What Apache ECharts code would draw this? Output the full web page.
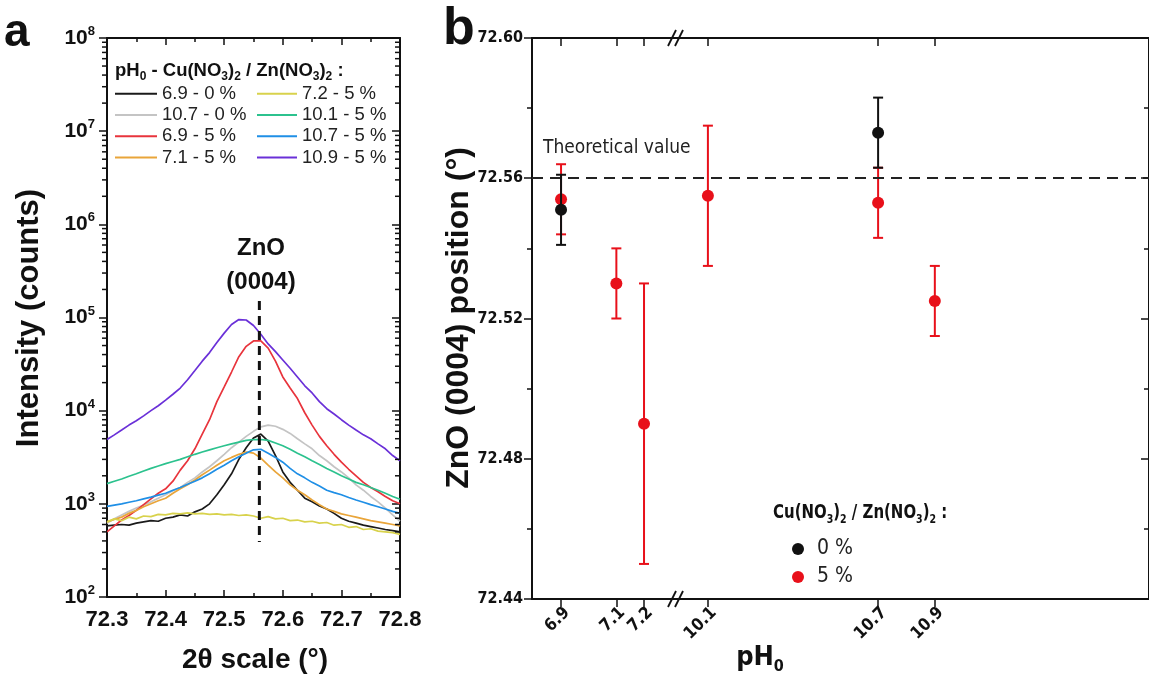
<!DOCTYPE html>
<html><head><meta charset="utf-8">
<script src="https://cdn.jsdelivr.net/npm/echarts@6/dist/echarts.min.js"></script>
<style>html,body{margin:0;padding:0;background:#fff}#c{width:1149px;height:680px}</style>
</head><body><div id="c"></div>
<script>
// ---------- Panel a data ----------
const twoTheta = [72.3,72.3125,72.325,72.3375,72.35,72.3625,72.375,72.3875,72.4,72.4125,72.425,72.4375,72.45,72.4625,72.475,72.4875,72.5,72.5125,72.525,72.5375,72.55,72.5625,72.575,72.5875,72.6,72.6125,72.625,72.6375,72.65,72.6625,72.675,72.6875,72.7,72.7125,72.725,72.7375,72.75,72.7625,72.775,72.7875,72.8];
const i69_0  = [580,590,600,590,620,640,660,650,700,720,760,740,820,880,1000,1250,1600,2100,3000,4000,5100,5600,4700,3300,2200,1700,1400,1150,1050,950,880,790,700,650,620,590,570,550,530,515,500];
const i107_0 = [620,690,760,830,900,970,1050,1150,1250,1380,1500,1700,1900,2200,2500,2900,3400,4000,4600,5300,6000,6700,7000,6800,6300,5700,5000,4400,3900,3300,2900,2500,2200,1900,1600,1400,1200,1050,900,760,650];
const i69_5  = [500,580,670,750,850,980,1130,1300,1450,1750,2300,2900,3900,5600,8000,12500,18000,26000,38000,49000,56000,56000,47000,34000,23000,17500,13500,9500,7000,5300,4200,3400,2800,2350,2000,1700,1500,1350,1200,1080,1000];
const i71_5  = [640,680,720,790,850,930,1000,1080,1150,1300,1450,1600,1800,2050,2300,2600,2900,3150,3400,3600,3500,3100,2600,2200,1900,1600,1400,1250,1100,980,880,830,780,750,720,690,660,640,620,600,580];
const i72_5  = [640,690,660,720,690,740,730,770,760,790,780,800,780,790,770,780,760,770,750,760,740,700,730,690,700,660,670,640,650,620,630,590,600,560,570,530,540,510,500,490,470];
const i101_5 = [1650,1750,1850,1980,2100,2250,2400,2550,2700,2850,3000,3200,3400,3600,3800,4000,4200,4400,4600,4800,4900,4900,4800,4500,4200,3850,3500,3200,2900,2650,2400,2200,2000,1850,1700,1600,1500,1400,1300,1200,1120];
const i107_5 = [940,970,1000,1040,1080,1130,1180,1240,1300,1400,1500,1620,1750,1900,2100,2350,2600,2900,3200,3500,3800,3850,3500,3150,2800,2400,2100,1900,1700,1550,1400,1320,1250,1170,1100,1040,980,930,880,830,790];
const i109_5 = [4900,5500,6200,7000,7800,8800,10000,11300,13000,15000,17500,21500,27000,34000,42000,54000,68000,84000,95000,94000,82000,66000,52000,43000,35000,28500,23000,18500,15500,12500,10500,9200,8000,7000,6200,5500,5000,4400,3900,3300,2900];
const curveNames  = ['6.9 - 0 %','10.7 - 0 %','6.9 - 5 %','7.1 - 5 %','7.2 - 5 %','10.1 - 5 %','10.7 - 5 %','10.9 - 5 %'];
const curveValues = [i69_0,i107_0,i69_5,i71_5,i72_5,i101_5,i107_5,i109_5];
const curveColors = ['#1a1a1a','#c4c4c4','#e8343c','#e9a53a','#d8d24c','#2cc28e','#1f8fe6','#6a30d8'];
const refPeak = [[72.56, 150000],[72.56, 390]];
const logDecades = [1e2,1e3,1e4,1e5,1e6,1e7];
const logMults = [2,3,4,5,6,7,8,9];

// ---------- Panel b data ----------
const ph0 = [6.9, 10.7];
const pos0 = [72.551, 72.573];
const err0 = [0.010, 0.010];
const ph5 = [6.9, 7.1, 7.2, 10.1, 10.7, 10.9];
const pos5 = [72.554, 72.530, 72.490, 72.555, 72.553, 72.525];
const err5 = [0.010, 0.010, 0.040, 0.020, 0.010, 0.010];
const phTicksLeft = [6.9, 7.1, 7.2];
const phTicksRight = [10.1, 10.7, 10.9];
const theoretical = 72.56;

const narrow = "'Liberation Sans Narrow','Arial Narrow','DejaVu Sans Condensed',sans-serif";
const sans = "'Liberation Sans',Arial,Helvetica,sans-serif";
const AX = '#111';

const chart = echarts.init(document.getElementById('c'), null, {renderer:'canvas'});

function pts(ph, pos, err, left){
  const out=[];
  for(let i=0;i<ph.length;i++){ if((ph[i]<8)===left) out.push([ph[i],pos[i],err[i]]); }
  return out;
}
function errRender(color){
  return function(params, api){
    const x=api.value(0), y=api.value(1), e=api.value(2);
    const t=api.coord([x,y+e]), b=api.coord([x,y-e]);
    const st={stroke:color,lineWidth:2};
    return {type:'group',children:[
      {type:'line',shape:{x1:t[0],y1:t[1],x2:b[0],y2:b[1]},style:st},
      {type:'line',shape:{x1:t[0]-5,y1:t[1],x2:t[0]+5,y2:t[1]},style:st},
      {type:'line',shape:{x1:b[0]-5,y1:b[1],x2:b[0]+5,y2:b[1]},style:st}
    ]};
  };
}

const minorData=[];
logDecades.forEach(d=>logMults.forEach(m=>minorData.push([72.3, d*m])));

const series=[];
curveNames.forEach((n,i)=>{
  series.push({name:n,type:'line',xAxisIndex:0,yAxisIndex:0,showSymbol:false,symbol:'none',
    data: twoTheta.map((x,k)=>[x,curveValues[i][k]]),
    lineStyle:{width:1.7,color:curveColors[i]},itemStyle:{color:curveColors[i]},z:3});
});
series.push({type:'line',xAxisIndex:0,yAxisIndex:0,showSymbol:false,symbol:'none',data:refPeak,
  lineStyle:{color:'#111',width:3,type:[9,6]},z:5,silent:true});
series.push({type:'custom',xAxisIndex:0,yAxisIndex:0,data:minorData,silent:true,z:6,
  renderItem:(p,api)=>{
    const v=api.value(1);
    const l=api.coord([72.3,v]), r=api.coord([72.8,v]);
    const st={stroke:AX,lineWidth:1.5};
    return {type:'group',children:[
      {type:'line',shape:{x1:l[0]-5,y1:l[1],x2:l[0],y2:l[1]},style:st},
      {type:'line',shape:{x1:r[0]-5,y1:r[1],x2:r[0],y2:r[1]},style:st}]};
  }});

[[true,2,2],[false,4,3]].forEach(([left,xi,yi])=>{
  series.push({type:'custom',xAxisIndex:xi,yAxisIndex:yi,data:pts(ph5,pos5,err5,left),renderItem:errRender('#e8101a'),z:3,
    markLine: {silent:true,symbol:'none',label:{show:false},lineStyle:{color:'#222',width:2,type:[11,7]},data:[{yAxis:theoretical}]}});
  series.push({name:'5 %',type:'scatter',xAxisIndex:xi,yAxisIndex:yi,symbolSize:12,itemStyle:{color:'#e8101a',opacity:1},
    data:pts(ph5,pos5,err5,left).map(d=>[d[0],d[1]]),z:4});
  series.push({type:'custom',xAxisIndex:xi,yAxisIndex:yi,data:pts(ph0,pos0,err0,left),renderItem:errRender('#111'),z:5});
  series.push({name:'0 %',type:'scatter',xAxisIndex:xi,yAxisIndex:yi,symbolSize:12,itemStyle:{color:'#111',opacity:1},
    data:pts(ph0,pos0,err0,left).map(d=>[d[0],d[1]]),z:6});
});

const supRich = {
  b:{fontSize:21,fontWeight:'bold',fontFamily:sans,color:'#111',lineHeight:26},
  s:{fontSize:13,fontWeight:'bold',fontFamily:sans,color:'#111',verticalAlign:'top',lineHeight:14}
};
const phLabel = {customValues:null,rotate:45,margin:5,verticalAlign:'top',fontSize:17,fontWeight:'bold',fontFamily:narrow,color:'#111',formatter:v=>v.toFixed(1)};

const option = {
  backgroundColor:'#fff',
  animation:false,
  grid:[
    {left:107,top:38,width:293,height:559},
    {left:532,top:38,width:143,height:561},
    {left:675,top:38,width:477,height:561}
  ],
  xAxis:[
    {type:'value',gridIndex:0,position:'bottom',min:72.3,max:72.8,interval:0.1,
      axisLine:{lineStyle:{color:AX,width:2}},axisTick:{inside:true,length:7,lineStyle:{width:1.5,color:AX}},
      minorTick:{show:true,splitNumber:2,length:4,lineStyle:{width:1.5,color:AX}},splitLine:{show:false},
      axisLabel:{margin:12,fontSize:22,fontWeight:'bold',fontFamily:sans,color:'#111',formatter:v=>v.toFixed(1)}},
    {type:'value',gridIndex:0,position:'top',min:72.3,max:72.8,interval:0.1,
      axisLine:{lineStyle:{color:AX,width:2}},axisTick:{inside:true,length:7,lineStyle:{width:1.5,color:AX}},
      minorTick:{show:true,splitNumber:2,length:4,lineStyle:{width:1.5,color:AX}},splitLine:{show:false},axisLabel:{show:false}},
    {type:'value',gridIndex:1,position:'bottom',min:6.795,max:7.312,
      axisLine:{lineStyle:{color:AX,width:2}},axisTick:{customValues:phTicksLeft,length:8,lineStyle:{width:1.5,color:AX}},splitLine:{show:false},
      axisLabel:Object.assign({},phLabel,{customValues:phTicksLeft})},
    {type:'value',gridIndex:1,position:'top',min:6.795,max:7.312,
      axisLine:{lineStyle:{color:AX,width:2}},axisTick:{inside:true,customValues:phTicksLeft,length:8,lineStyle:{width:1.5,color:AX}},splitLine:{show:false},axisLabel:{show:false}},
    {type:'value',gridIndex:2,position:'bottom',min:9.984,max:11.655,
      axisLine:{lineStyle:{color:AX,width:2}},axisTick:{customValues:phTicksRight,length:8,lineStyle:{width:1.5,color:AX}},splitLine:{show:false},
      axisLabel:Object.assign({},phLabel,{customValues:phTicksRight})},
    {type:'value',gridIndex:2,position:'top',min:9.984,max:11.655,
      axisLine:{lineStyle:{color:AX,width:2}},axisTick:{inside:true,customValues:phTicksRight,length:8,lineStyle:{width:1.5,color:AX}},splitLine:{show:false},axisLabel:{show:false}}
  ],
  yAxis:[
    {type:'log',gridIndex:0,position:'left',min:100,max:1e8,logBase:10,splitNumber:6,
      axisLine:{lineStyle:{color:AX,width:2}},axisTick:{length:8,lineStyle:{width:1.5,color:AX}},splitLine:{show:false},
      axisLabel:{margin:12,formatter:v=>'{b|10}{s|'+Math.round(Math.log10(v))+'}',rich:supRich}},
    {type:'log',gridIndex:0,position:'right',min:100,max:1e8,logBase:10,splitNumber:6,
      axisLine:{lineStyle:{color:AX,width:2}},axisTick:{inside:true,length:8,lineStyle:{width:1.5,color:AX}},splitLine:{show:false},axisLabel:{show:false}},
    {type:'value',gridIndex:1,position:'left',min:72.44,max:72.60,interval:0.04,
      axisLine:{lineStyle:{color:AX,width:2}},axisTick:{length:8,lineStyle:{width:1.5,color:AX}},
      minorTick:{show:true,splitNumber:2,length:5,lineStyle:{width:1.5,color:AX}},splitLine:{show:false},
      axisLabel:{margin:9,fontSize:16,fontWeight:'bold',fontFamily:narrow,color:'#111',formatter:v=>v.toFixed(2)}},
    {type:'value',gridIndex:2,position:'right',min:72.44,max:72.60,interval:0.04,
      axisLine:{lineStyle:{color:AX,width:2}},axisTick:{inside:true,length:8,lineStyle:{width:1.5,color:AX}},
      minorTick:{show:true,splitNumber:2,length:5,lineStyle:{width:1.5,color:AX}},splitLine:{show:false},axisLabel:{show:false}}
  ],
  legend:[
    {data:curveNames.slice(0,4),orient:'vertical',left:115,top:83,padding:0,itemWidth:42,itemHeight:2,icon:'rect',itemGap:0,
      textStyle:{fontSize:18.5,fontFamily:sans,color:'#222',lineHeight:21.3},selectedMode:false},
    {data:curveNames.slice(4),orient:'vertical',left:257,top:83,padding:0,itemWidth:40,itemHeight:2,icon:'rect',itemGap:0,
      textStyle:{fontSize:18.5,fontFamily:sans,color:'#222',lineHeight:21.3},selectedMode:false},
    {data:['0 %','5 %'],orient:'vertical',left:792,top:535,padding:0,itemWidth:12,itemHeight:12,icon:'circle',itemGap:0,
      textStyle:{fontSize:21,fontFamily:narrow,color:'#222',lineHeight:28,padding:[0,0,0,8]},selectedMode:false}
  ],
  graphic:[
    {type:'text',left:4,top:10,style:{text:'a',font:'bold 46px '+sans,fill:'#111'}},
    {type:'text',left:443,top:4,style:{text:'b',font:'bold 52px '+sans,fill:'#111'}},
    {type:'text',x:29,y:318,rotation:Math.PI/2,style:{text:'Intensity (counts)',font:'bold 31px '+sans,fill:'#111',align:'center',verticalAlign:'middle'}},
    {type:'text',x:255,y:660,style:{text:'2θ scale (°)',font:'bold 28px '+sans,fill:'#111',align:'center',verticalAlign:'middle'}},
    {type:'text',x:261,y:248,style:{text:'ZnO',font:'bold 24px '+sans,fill:'#111',align:'center',verticalAlign:'middle'}},
    {type:'text',x:261,y:282,style:{text:'(0004)',font:'bold 24px '+sans,fill:'#111',align:'center',verticalAlign:'middle'}},
    {type:'text',x:115,y:59,style:{
      text:'{t|pH}{s|0}{t| - Cu(NO}{s|3}{t|)}{s|2}{t| / Zn(NO}{s|3}{t|)}{s|2}{t| :}',
      rich:{t:{fontSize:18.5,fontWeight:'bold',fontFamily:sans,fill:'#111',lineHeight:24},
            s:{fontSize:12,fontWeight:'bold',fontFamily:sans,fill:'#111',lineHeight:12,verticalAlign:'bottom'}}}},
    {type:'text',x:459,y:318,rotation:Math.PI/2,style:{text:'ZnO (0004) position (°)',font:'bold 32px '+sans,fill:'#111',align:'center',verticalAlign:'middle'}},
    {type:'text',x:760,y:658,style:{text:'{a|pH}{b|0}',align:'center',verticalAlign:'middle',
      rich:{a:{fontSize:27,fontWeight:'bold',fontFamily:narrow,fill:'#111',lineHeight:34},
            b:{fontSize:16,fontWeight:'bold',fontFamily:narrow,fill:'#111',lineHeight:16,verticalAlign:'bottom'}}}},
    {type:'text',left:543,top:139,style:{text:'Theoretical value',font:'19px '+narrow,fill:'#222'}},
    {type:'text',x:773,y:500,scaleX:0.875,style:{
      text:'{t|Cu(NO}{s|3}{t|)}{s|2}{t| / Zn(NO}{s|3}{t|)}{s|2}{t| :}',
      rich:{t:{fontSize:19,fontWeight:'bold',fontFamily:narrow,fill:'#111',lineHeight:26},
            s:{fontSize:12,fontWeight:'bold',fontFamily:narrow,fill:'#111',lineHeight:12,verticalAlign:'bottom'}}}},
    {type:'line',shape:{x1:668,y1:46,x2:676,y2:30},style:{stroke:AX,lineWidth:1.8}},
    {type:'line',shape:{x1:675,y1:46,x2:683,y2:30},style:{stroke:AX,lineWidth:1.8}},
    {type:'line',shape:{x1:668,y1:607,x2:676,y2:591},style:{stroke:AX,lineWidth:1.8}},
    {type:'line',shape:{x1:675,y1:607,x2:683,y2:591},style:{stroke:AX,lineWidth:1.8}}
  ],
  series
};
chart.setOption(option);
</script></body></html>
